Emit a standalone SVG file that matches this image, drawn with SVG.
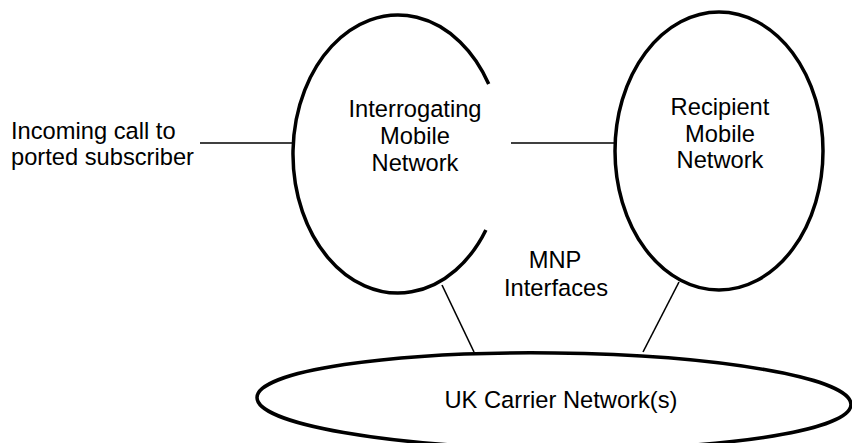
<svg xmlns="http://www.w3.org/2000/svg" width="852" height="443" viewBox="0 0 852 443">
<style>
.shape{fill:none;stroke:#000;stroke-width:3.5}
.conn{fill:none;stroke:#000;stroke-width:1.6}
text{font-family:"Liberation Sans",Arial,sans-serif;font-size:23.7px;fill:#000}
.c{text-anchor:middle}
</style>
<rect width="852" height="443" fill="#fff"/>
<g id="connectors">
<line class="conn" x1="200" y1="143" x2="293" y2="143"/>
<line class="conn" x1="511" y1="143" x2="615" y2="143"/>
<line class="conn" x1="442" y1="285" x2="474" y2="352"/>
<line class="conn" x1="679" y1="282" x2="643" y2="352"/>
</g>
<g id="incoming">
<text x="11" y="139">Incoming call to</text>
<text x="11" y="165">ported subscriber</text>
</g>
<g id="interrogating">
<path class="shape" d="M488.7,84 A105,139 0 1 0 485.9,230"/>
<text class="c" x="415" y="117">Interrogating</text>
<text class="c" x="415" y="144">Mobile</text>
<text class="c" x="415" y="171">Network</text>
</g>
<g id="recipient">
<ellipse class="shape" cx="719" cy="151" rx="104" ry="139"/>
<text class="c" x="720" y="115">Recipient</text>
<text class="c" x="720" y="142">Mobile</text>
<text class="c" x="720" y="168">Network</text>
</g>
<g id="mnp">
<text class="c" x="555" y="268">MNP</text>
<text class="c" x="556" y="296">Interfaces</text>
</g>
<g id="carrier">
<ellipse class="shape" cx="554" cy="401" rx="297" ry="48" transform="rotate(0.67 554 401)"/>
<text class="c" x="561" y="408">UK Carrier Network(s)</text>
</g>
</svg>
